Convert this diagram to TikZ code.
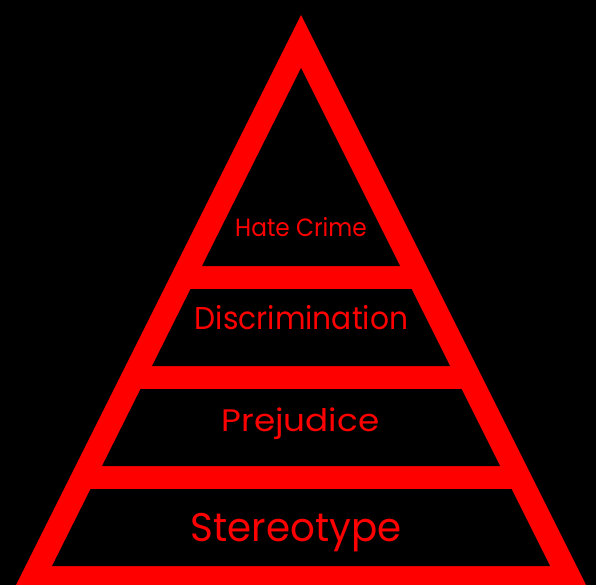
\documentclass[tikz,border=0pt]{standalone}
\usepackage{fontspec}
\setmainfont[Ligatures=NoCommon]{Poppins}
\usetikzlibrary{positioning}
\definecolor{pyrred}{HTML}{FF0000}

\begin{document}
\begin{tikzpicture}[
      x=1pt, y=-1pt,
      tier/.style 2 args={text=pyrred, anchor=base, inner sep=0pt,
                   transform shape, xscale=#2,
                   font=\fontsize{#1}{#1}\selectfont},
    ]
    \useasboundingbox (0,0) rectangle (596,585);
    \fill[black] (0,0) rectangle (596,585);

    % pyramid outline and bands
    \fill[pyrred] (301,15) -- (586,585) -- (16,585) -- cycle;
    \fill[black] (301,68) -- (400,266) -- (202,266) -- cycle;
    \foreach \ya/\yb in {289/366, 389/466, 489/566} {
      \fill[black] ({301-(\ya-68)/2},\ya) -- ({301+(\ya-68)/2},\ya)
        -- ({301+(\yb-68)/2},\yb) -- ({301-(\yb-68)/2},\yb) -- cycle;
    }

    \node[tier={25}{0.93}] (hate) at (301,236.7) {Hate Crime};
    \node[tier={31.6}{0.94}] (discr) at (301.5,329.5) {Discrimination};
    \node[tier={31.1}{1.1}] (prej) at (300.5,431.7) {Prejudice};
    \node[tier={40}{0.97}] (stereo) at (296,541.7) {Stereotype};
  \end{tikzpicture}
\end{document}
